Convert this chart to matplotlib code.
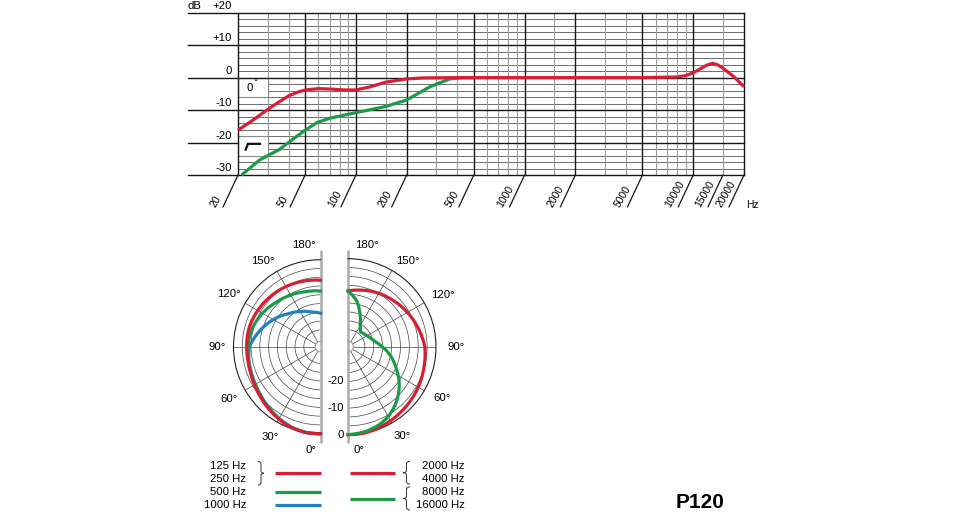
import numpy as np
import matplotlib
matplotlib.use("Agg")
import matplotlib.pyplot as plt
from matplotlib.lines import Line2D
from matplotlib.patches import Rectangle, PathPatch
from matplotlib.path import Path

plt.rcParams['font.family'] = ['Liberation Sans', 'DejaVu Sans']

# ---------------- data ----------------
# frequency response, 0 degrees (flat position)
fr_freq_flat = [20, 25, 30, 35, 40, 45, 50, 60, 70, 85, 100, 120, 150, 200, 250, 400,
                1000, 5000, 8000, 9000, 10000, 12000, 13000, 14000, 15000, 17500, 20000]
fr_db_flat = [-16.2, -12.8, -9.8, -7.5, -5.6, -4.5, -3.8, -3.4, -3.5, -3.8, -3.8, -2.9, -1.4,
              -0.4, -0.1, 0, 0, 0, 0.2, 0.6, 1.5, 3.8, 4.4, 3.9, 2.9, 0.2, -2.8]
# frequency response with bass-cut filter
fr_freq_cut = [21, 27, 35, 49, 59, 70, 100, 150, 200, 275, 360, 430, 500]
fr_db_cut = [-30, -25.3, -22.2, -16.5, -13.8, -12.5, -10.8, -8.9, -6.9, -2.8, -0.4, 0, 0]

fr_major_freqs = [20, 50, 100, 200, 500, 1000, 2000, 5000, 10000, 20000]
fr_minor_freqs = [30, 40, 60, 70, 80, 90, 150, 300, 400, 600, 700, 800, 900, 1500,
                  3000, 4000, 6000, 7000, 8000, 9000, 15000]
fr_tick_freqs = [20, 50, 100, 200, 500, 1000, 2000, 5000, 10000, 15000, 20000]
fr_tick_labels = ['20', '50', '100', '200', '500', '1000', '2000', '5000', '10000', '15000', '20000']
db_major = [-30, -20, -10, 0, 10, 20]
db_labels = ['-30', '-20', '-10', '0', '+10', '+20']

# polar patterns (angle in degrees, level in dB)
left_ang_red = [0, 10, 20, 30, 40, 50, 60, 70, 80, 90, 105, 120, 135, 150, 165, 180]
left_db_125_250 = [0, 0, -0.4, -1.3, -2.3, -3.3, -4.1, -4.7, -5.0, -5.0, -5.0, -5.5, -6.1, -6.7, -7.3, -7.8]
left_ang_green = [0, 10, 20, 30, 40, 50, 60, 70, 80, 90, 105, 120, 135, 150, 165, 180]
left_db_500 = [0, 0, -0.5, -1.5, -2.6, -3.6, -4.4, -4.9, -5.2, -5.4, -6.2, -7.6, -9.2, -10.4, -11.4, -11.9]
left_ang_blue = [0, 10, 20, 30, 40, 50, 60, 70, 80, 90, 100, 110, 120, 135, 150, 165, 180]
left_db_1000 = [0, 0, -0.6, -1.6, -2.7, -3.7, -4.5, -5.0, -5.4, -6.0, -8.2, -10.3, -12.4, -15.4, -17.6, -19.4, -20.3]

right_ang_red = [0, 10, 20, 30, 45, 60, 75, 90, 105, 120, 135, 150, 165, 180]
right_db_2000_4000 = [0, 0, -0.4, -1.0, -1.8, -2.6, -3.5, -4.2, -5.8, -7.3, -8.7, -9.9, -11.1, -12.1]
right_ang_green = [0, 13, 22, 29, 36, 43, 50, 57, 63, 70, 80, 90, 100, 111, 125, 141, 150, 157, 169, 180]
right_db_8000_16000 = [0, -0.6, -1.5, -2.6, -4.1, -6.0, -8.0, -10.2, -12.3, -14.4, -17.3, -20.2, -22.6,
                       -24.0, -25.2, -25.7, -23.9, -21.2, -15.6, -12.1]

polar_angle_labels = ['0°', '30°', '60°', '90°', '120°', '150°', '180°']
polar_db_labels = ['0', '-10', '-20']
polar_db_values = [0, -10, -20]

legend_left = ['125 Hz', '250 Hz', '500 Hz', '1000 Hz']
legend_right = ['2000 Hz', '4000 Hz', '8000 Hz', '16000 Hz']

RED = '#d61f34'
GREEN = '#1c9a48'
BLUE = '#1f80c3'

W, H = 974, 530
fig = plt.figure(figsize=(W / 100, H / 100), dpi=100)
fig.patch.set_facecolor('white')


def fx(px):
    return px / W


def fy(py):
    return 1 - py / H


# ---------------- frequency response ----------------
ax = fig.add_axes([fx(238), fy(175), 506 / W, 162.3 / H])
ax.set_xscale('log')
ax.set_xlim(20, 20000)
ax.set_ylim(-30, 20)
ax.set_axis_off()

for v in range(-28, 20, 2):
    if v % 10 != 0:
        ax.axhline(v, color='#555555', lw=0.6, zorder=1)
for f in fr_minor_freqs:
    ax.axvline(f, color='#9a9a9a', lw=0.8, zorder=1)
for f in fr_major_freqs:
    ax.axvline(f, color='#151515', lw=1.0, zorder=1.6 if f == 20 else 1.2, clip_on=False)
for v in db_major:
    ax.plot([-0.099, 1], [v, v], transform=ax.get_yaxis_transform(), color='#151515',
            lw=1.0, zorder=1.6 if v == 0 else 1.2, clip_on=False)

for v, lab in zip(db_major, db_labels):
    ax.annotate(lab, xy=(0, v), xycoords=('axes fraction', 'data'), xytext=(-6, 7),
                textcoords='offset pixels', ha='right', va='center', fontsize=8.2)
ax.annotate('dB', xy=(0, 20), xycoords=('axes fraction', 'data'), xytext=(-50, 7),
            textcoords='offset pixels', ha='left', va='center', fontsize=8.2)

for f, lab in zip(fr_tick_freqs, fr_tick_labels):
    ax.annotate('', xy=(f, 0), xycoords=('data', 'axes fraction'), xytext=(-15, -32),
                textcoords='offset pixels',
                arrowprops=dict(arrowstyle='-', lw=0.9, color='#151515', shrinkA=0, shrinkB=0))
    ax.annotate(lab, xy=(f, 0), xycoords=('data', 'axes fraction'), xytext=(-21, -34),
                textcoords='offset pixels', rotation=60, rotation_mode='anchor',
                ha='left', va='bottom', fontsize=7.5)
ax.annotate('Hz', xy=(1, 0), xycoords='axes fraction', xytext=(2, -33),
            textcoords='offset pixels', ha='left', va='baseline', fontsize=7.5)

# boxes with 0° label and bass-cut symbol
ax.add_patch(Rectangle((20, -6), 10, 6, facecolor='white', edgecolor='#888888', lw=0.8, zorder=1.5))
ax.add_patch(Rectangle((20, -24), 10, 6, facecolor='white', edgecolor='#888888', lw=0.8, zorder=1.5))
ax.text(23.4, -3.1, '0', ha='center', va='center', fontsize=8.2, zorder=3)
ax.text(25.5, -1.3, '°', ha='center', va='center', fontsize=7, zorder=3)
ax.plot([22.2, 22.9, 27.0], [-22.2, -20.4, -20.4], color='#111111', lw=1.6, zorder=3,
        solid_joinstyle='miter')

ax.plot(fr_freq_cut, fr_db_cut, color=GREEN, lw=2.3, zorder=4, clip_on=False,
        solid_capstyle='butt')
ax.plot(fr_freq_flat, fr_db_flat, color=RED, lw=2.3, zorder=5, clip_on=False,
        solid_capstyle='butt')

# ---------------- polar patterns ----------------
R_ORIGIN = -33.0
R_MIN = -31.0
ring_values = [-80 / 3, -70 / 3, -20, -50 / 3, -40 / 3, -10, -20 / 3, -10 / 3]


def to_r(radius_px, R):
    return R_ORIGIN + radius_px / R * (0 - R_ORIGIN)


def make_polar(cx, cy, R, direction):
    # polar axes are square; the half disc is centred horizontally in the square box
    if direction < 0:
        rect = [fx(cx - 1.5 * R), fy(cy + R), 2 * R / W, 2 * R / H]
    else:
        rect = [fx(cx - 0.5 * R), fy(cy + R), 2 * R / W, 2 * R / H]
    p = fig.add_axes(rect, projection='polar')
    p.set_theta_zero_location('S')
    p.set_theta_direction(direction)
    p.set_thetamin(0)
    p.set_thetamax(180)
    p.set_rorigin(R_ORIGIN)
    p.set_ylim(R_MIN, 0)
    p.set_facecolor('none')
    p.set_xticks(np.deg2rad([30, 60, 90, 120, 150]))
    p.set_xticklabels([])
    p.set_yticks(ring_values)
    p.set_yticklabels([])
    p.grid(True, color='#444444', lw=0.5)
    p.spines['polar'].set_color('#222222')
    p.spines['polar'].set_linewidth(0.8)
    p.spines['inner'].set_color('#9a9a9a')
    p.spines['inner'].set_linewidth(0.8)
    # straight-edge spines are re-shown by the polar axes at draw time: make them invisible
    p.spines['start'].set_color('none')
    p.spines['end'].set_color('none')
    p.tick_params(pad=0, length=0)
    # gray straight edge
    for t in (np.pi, 0):
        p.plot([t, t], [R_ORIGIN, to_r(96.5, R)], color='#ababab', lw=1.8,
               clip_on=False, zorder=2.5, solid_capstyle='butt')
    return p


def polar_curve(p, ang, db, color, z):
    line, = p.plot(np.deg2rad(ang), db, color=color, lw=2.3, zorder=z, clip_on=False,
                   solid_joinstyle='round')
    line.get_path()._interpolation_steps = 24
    return line


axL = make_polar(320.5, 346.7, 87.0, -1)
axR = make_polar(348.0, 346.7, 88.0, 1)

polar_curve(axL, left_ang_blue, left_db_1000, BLUE, 3)
polar_curve(axL, left_ang_green, left_db_500, GREEN, 4)
polar_curve(axL, left_ang_red, left_db_125_250, RED, 5)

polar_curve(axR, right_ang_red, right_db_2000_4000, RED, 4)
polar_curve(axR, right_ang_green, right_db_8000_16000, GREEN, 5)

# angle labels (angle position, radius px)
left_lab_pos = [(5.3, 103.7), (29.2, 103.5), (60.4, 105.8), (90, 103.0), (119.9, 105.6),
                (145.9, 103.5), (170.8, 103.0)]
right_lab_pos = [(6.3, 103.7), (31.1, 104.5), (61.5, 107.0), (90, 108.5), (118.5, 108.0),
                 (145.0, 104.6), (169.7, 103.3)]
for lab, (a, rp) in zip(polar_angle_labels, left_lab_pos):
    axL.text(np.deg2rad(a), to_r(rp, 87.0), lab, ha='center', va='center', fontsize=8.2, clip_on=False)
for lab, (a, rp) in zip(polar_angle_labels, right_lab_pos):
    axR.text(np.deg2rad(a), to_r(rp, 88.0), lab, ha='center', va='center', fontsize=8.2, clip_on=False)
for lab, v in zip(polar_db_labels, polar_db_values):
    axR.annotate(lab, xy=(0, v), xycoords='data', xytext=(-4, 0), textcoords='offset pixels',
                 ha='right', va='center', fontsize=8.2, annotation_clip=False)

# ---------------- legend ----------------
for txt, py in zip(legend_left, [466, 479.3, 492.3, 504.5]):
    fig.text(fx(246), fy(py), txt, ha='right', va='center', fontsize=8.2)
for txt, py in zip(legend_right, [466, 479.3, 492.3, 504.5]):
    fig.text(fx(465), fy(py), txt, ha='right', va='center', fontsize=8.2)

legend_lines = [((274.5, 320.5), 473.3, RED), ((274.5, 320.5), 491.7, GREEN),
                ((274.5, 320.5), 505.0, BLUE), ((349.5, 395.0), 472.7, RED),
                ((349.5, 395.0), 499.3, GREEN)]
for (x0, x1), py, c in legend_lines:
    fig.add_artist(Line2D([fx(x0), fx(x1)], [fy(py), fy(py)], color=c, lw=2.3,
                          transform=fig.transFigure, solid_capstyle='butt'))


def brace(xb, xt, y0, y1):
    xm = (xb + xt) / 2.0
    ym = (y0 + y1) / 2.0
    q = 2.5
    pts = [(xb, y0), (xm, y0), (xm, y0 + q), (xm, ym - q), (xm, ym), (xt, ym),
           (xm, ym), (xm, ym + q), (xm, y1 - q), (xm, y1), (xb, y1)]
    codes = [Path.MOVETO, Path.CURVE3, Path.CURVE3, Path.LINETO, Path.CURVE3, Path.CURVE3,
             Path.CURVE3, Path.CURVE3, Path.LINETO, Path.CURVE3, Path.CURVE3]
    verts = [(fx(a), fy(b)) for a, b in pts]
    fig.add_artist(PathPatch(Path(verts, codes), fill=False, edgecolor='#333333', lw=0.7,
                             transform=fig.transFigure))


brace(258, 264, 461.5, 485)
brace(410, 403, 461.5, 484)
brace(410, 403, 487, 510)

fig.text(fx(700), fy(508), 'P120', ha='center', va='baseline', fontsize=15, fontweight='bold')

fig.savefig('out.png', dpi=100, facecolor='white')
